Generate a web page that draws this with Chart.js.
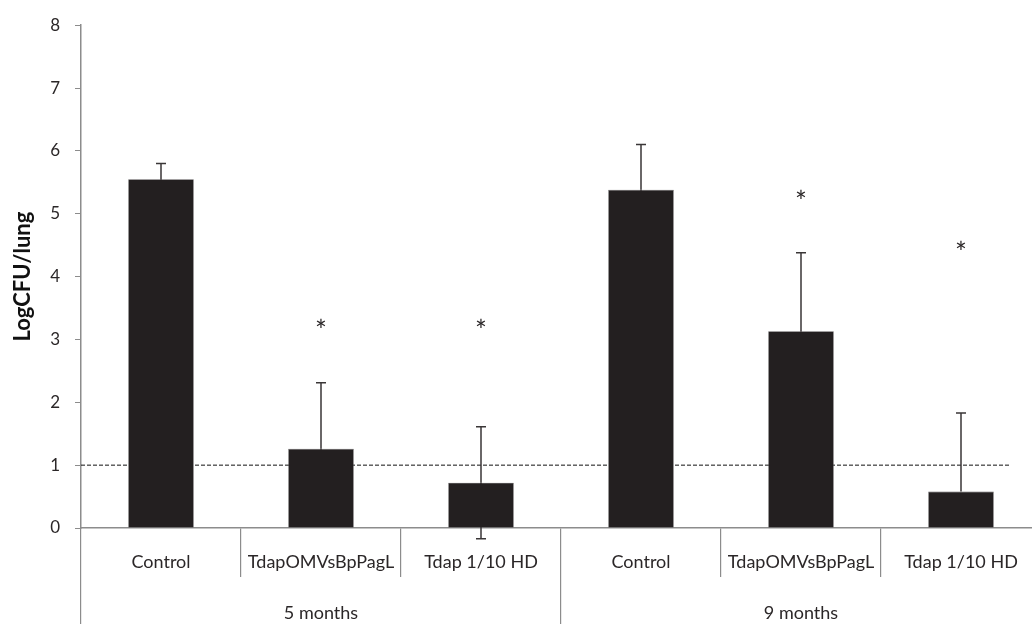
<!DOCTYPE html>
<html>
<head>
<meta charset="utf-8">
<script src="https://cdn.jsdelivr.net/npm/chart.js@4"></script>
<style>
	html, body { margin: 0; padding: 0; background: #fff; overflow: hidden; }
	#wrap { width: 1041px; height: 624px; }
</style>
</head>
<body>
<div id="wrap"><canvas id="chart-cfu" width="1041" height="624"></canvas></div>
<script>
// Data
const CATEGORIES = ["Control", "TdapOMVsBpPagL", "Tdap 1/10 HD", "Control", "TdapOMVsBpPagL", "Tdap 1/10 HD"];
const GROUPS = ["5 months", "9 months"];
const MEANS = [5.55, 1.26, 0.72, 5.38, 3.13, 0.58];
const ERR_UP = [0.25, 1.05, 0.89, 0.72, 1.25, 1.25];
const ERR_DOWN = [0.25, 1.05, 0.89, 0.72, 1.25, 0];
const STARS = [null, 3.22, 3.22, null, 5.26, 4.45];
const DETECTION_LIMIT = 1;
const Y_TICKS = [0, 1, 2, 3, 4, 5, 6, 7, 8];
const Y_TITLE = "LogCFU/lung";

const FONT = "Lato, 'Open Sans', sans-serif";
const TEXT = "#2b2728";
const AXIS = "#8c8c8c";
const BAR = "#231f20";
const WHISKER = "#3a3637";

// Error bars, significance stars, dashed detection limit and axis title
const extras = {
	id: "extras",
	beforeDatasetsDraw(chart) {
		const { ctx, scales: { x, y }, chartArea } = chart;
		const yl = y.getPixelForValue(DETECTION_LIMIT);
		ctx.save();
		ctx.strokeStyle = "#111";
		ctx.lineWidth = 1;
		ctx.setLineDash([4, 2]);
		ctx.beginPath();
		ctx.moveTo(chartArea.left, yl);
		ctx.lineTo(x.getPixelForValue(CATEGORIES.length - 1 + 0.3), yl);
		ctx.stroke();
		ctx.setLineDash([]);

		// lower whiskers sit behind the bars
		ctx.strokeStyle = WHISKER;
		ctx.lineWidth = 1.5;
		chart.getDatasetMeta(0).data.forEach((bar, i) => {
			if (!ERR_DOWN[i]) return;
			const bot = y.getPixelForValue(MEANS[i] - ERR_DOWN[i]);
			ctx.beginPath();
			ctx.moveTo(bar.x, y.getPixelForValue(MEANS[i]));
			ctx.lineTo(bar.x, bot);
			ctx.moveTo(bar.x - 5, bot);
			ctx.lineTo(bar.x + 5, bot);
			ctx.stroke();
		});
		ctx.restore();
	},
	afterDatasetsDraw(chart) {
		const { ctx, scales: { y }, chartArea } = chart;
		const bars = chart.getDatasetMeta(0).data;
		ctx.save();
		ctx.strokeStyle = WHISKER;
		ctx.lineWidth = 1.5;
		bars.forEach((bar, i) => {
			const top = y.getPixelForValue(MEANS[i] + ERR_UP[i]);
			ctx.beginPath();
			ctx.moveTo(bar.x, y.getPixelForValue(MEANS[i]));
			ctx.lineTo(bar.x, top);
			ctx.moveTo(bar.x - 5, top);
			ctx.lineTo(bar.x + 5, top);
			ctx.stroke();
			if (STARS[i] !== null) {
				ctx.fillStyle = TEXT;
				ctx.font = "28px " + FONT;
				ctx.textAlign = "center";
				ctx.textBaseline = "alphabetic";
				ctx.fillText("*", bar.x, y.getPixelForValue(STARS[i]) + 15);
			}
		});

		// y axis title
		ctx.translate(23, (chartArea.top + chartArea.bottom) / 2);
		ctx.rotate(-Math.PI / 2);
		ctx.fillStyle = "#111";
		ctx.font = "bold 22px " + FONT;
		ctx.textAlign = "center";
		ctx.textBaseline = "middle";
		ctx.fillText(Y_TITLE, 0, 0);
		ctx.restore();
	},
};

const CHART_CONFIG = {
	type: "bar",
	data: {
		labels: CATEGORIES,
		datasets: [
			{
				data: MEANS,
				backgroundColor: BAR,
				borderColor: "#5a5657",
				borderWidth: 0.6,
				barPercentage: 0.41,
				categoryPercentage: 1,
			},
		],
	},
	options: {
		responsive: false,
		animation: false,
		layout: {
			padding: { top: 18, left: 0, right: 0, bottom: 0 },
		},
		scales: {
			x: {
				position: "bottom",
				weight: 0,
				border: { color: AXIS, width: 1.5 },
				grid: {
					offset: true,
					drawOnChartArea: false,
					color: AXIS,
					lineWidth: 1.2,
					tickLength: 49,
				},
				ticks: {
					autoSkip: false,
					maxRotation: 0,
					padding: -26,
					color: TEXT,
					font: { family: FONT, size: 18 },
				},
				afterFit: (scale) => { scale.height = 49; },
			},
			x2: {
				type: "category",
				labels: GROUPS,
				position: "bottom",
				weight: 1,
				border: { display: false },
				grid: {
					offset: true,
					drawOnChartArea: false,
					color: AXIS,
					lineWidth: 1.2,
					tickLength: 47,
				},
				ticks: {
					padding: -22,
					color: TEXT,
					font: { family: FONT, size: 18 },
				},
				afterFit: (scale) => { scale.height = 47; },
			},
			y: {
				min: 0,
				max: 8,
				border: { color: AXIS, width: 1.5 },
				grid: {
					drawOnChartArea: false,
					color: AXIS,
					tickLength: 6,
				},
				afterBuildTicks: (scale) => { scale.ticks = Y_TICKS.map((v) => ({ value: v })); },
				ticks: {
					padding: 15,
					color: TEXT,
					font: { family: FONT, size: 17 },
				},
				afterFit: (scale) => { scale.width = 81; },
			},
		},
		plugins: {
			legend: { display: false },
			tooltip: { enabled: false },
		},
	},
	plugins: [extras],
};

new Chart(document.getElementById("chart-cfu"), CHART_CONFIG);
</script>
</body>
</html>
